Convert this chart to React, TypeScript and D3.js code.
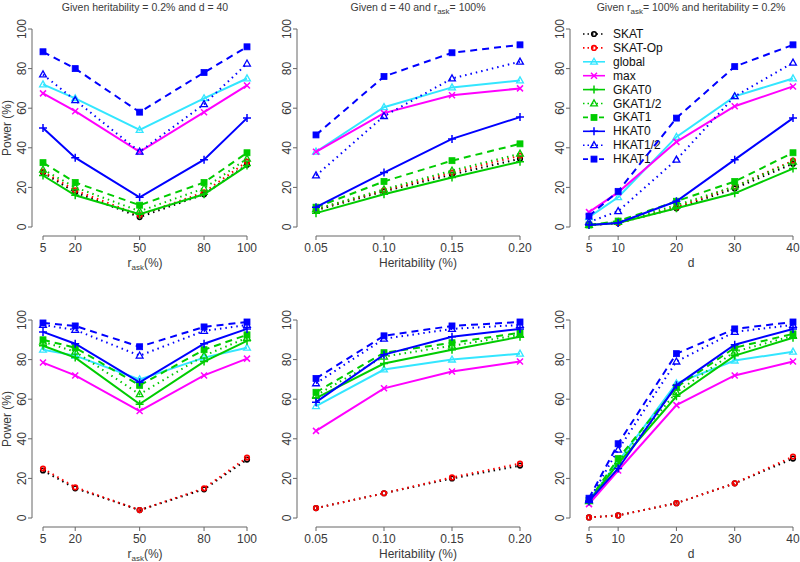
import React from 'react';
import * as d3 from 'd3';

// series order: SKAT, SKAT-Op, global, max, GKAT0, GKAT1/2, GKAT1, HKAT0, HKAT1/2, HKAT1
const seriesNames = ['SKAT', 'SKAT-Op', 'global', 'max', 'GKAT0', 'GKAT1/2', 'GKAT1', 'HKAT0', 'HKAT1/2', 'HKAT1'];
const seriesColors = ['#000000', '#ff0000', '#33e6ff', '#ff00ff', '#00cc00', '#00cc00', '#00cc00', '#0000ff', '#0000ff', '#0000ff'];
const seriesDash = ['dot', 'dot', 'solid', 'solid', 'solid', 'dot', 'dash', 'solid', 'dot', 'dash'];
const seriesMarker = ['circle', 'circle', 'triangle', 'x', 'plus', 'triangle', 'square', 'plus', 'triangle', 'square'];

const riskLevels = [5, 20, 50, 80, 100];
const heritLevels = [0.05, 0.10, 0.15, 0.20];
const dLevels = [5, 10, 20, 30, 40];
const yTicks = [0, 20, 40, 60, 80, 100];

const topRisk = [
  [27.5, 17.5, 5, 16.5, 31.5],
  [28, 18.5, 6, 17.5, 33],
  [72, 65, 49, 65, 75],
  [67.5, 58.5, 38, 58, 71.5],
  [26, 16, 6.5, 16.5, 31],
  [29, 20, 8, 19.5, 34.5],
  [32.5, 22.5, 11, 22.5, 37.5],
  [50, 35, 15, 34, 55],
  [77, 64, 38, 62, 82.5],
  [88.5, 80, 58, 78, 91],
];
const topHerit = [
  [8.5, 18, 26.5, 34.5],
  [9, 18.5, 27.5, 36],
  [38, 60.5, 70.5, 74],
  [38, 57.5, 66.5, 70],
  [7, 16.5, 25, 33],
  [9, 19, 28.5, 37],
  [10, 23, 33.5, 42],
  [10, 27.5, 44.5, 55.5],
  [26, 56, 75, 83.5],
  [46.5, 76, 88, 92],
];
const topD = [
  [1, 2, 9.5, 19.5, 32],
  [1, 2, 10, 20.5, 33.5],
  [5, 15, 45.5, 66, 75],
  [7.5, 17.5, 43, 61, 71],
  [1, 2, 9.5, 17, 29.5],
  [1, 2.5, 11, 20.5, 33],
  [1, 3, 13, 23, 37.5],
  [1, 2, 13, 34, 55],
  [2.5, 8, 34, 66, 83],
  [5.5, 18, 55, 81, 92],
];
const botRisk = [
  [24, 15, 4, 14.5, 29.5],
  [25, 15.5, 4, 15, 30.5],
  [85, 82, 70, 81, 86],
  [78.5, 72, 54, 72, 80.5],
  [87, 81, 57.5, 79, 89.5],
  [89, 84, 62.5, 82, 91],
  [90, 86, 67, 85, 92.5],
  [94, 88, 68.5, 88, 95.5],
  [97.5, 95, 82, 94.5, 97.5],
  [98.5, 97, 86.5, 96.5, 99],
];
const botHerit = [
  [5, 12.5, 20, 26.5],
  [5, 12.5, 20.5, 27.5],
  [56.5, 75, 80, 83],
  [44, 65.5, 74, 79],
  [60.5, 78, 85, 91.5],
  [62, 81.5, 87, 92.5],
  [63.5, 83.5, 88.5, 93.5],
  [58.5, 82.5, 91.5, 95.5],
  [68, 90.5, 95.5, 97.5],
  [70.5, 92, 97, 99],
];
const botD = [
  [0.3, 1.3, 7.5, 17.5, 30],
  [0.3, 1.3, 7.5, 17.5, 31],
  [9, 28.5, 68, 79.5, 84],
  [7, 24, 57, 72, 79],
  [8.5, 27.5, 61.5, 82, 91],
  [8.5, 28.5, 63.5, 84, 92],
  [9, 30, 66, 86, 93],
  [8.5, 25, 67, 87.5, 95.5],
  [9, 34.5, 79, 94, 97.5],
  [10, 37.5, 83, 95.5, 99],
];

const FONT = '"Liberation Sans", Arial, sans-serif';
const AXIS = '#666';
const TEXT = '#3a3a3a';

const colAxisX = [32, 297, 570];
const colRange = [[43, 247], [316, 520], [589, 793]];
const rowYRange = [[227, 29], [518, 320]];
const rowXAxisY = [236, 527];

const dashArray = (k: string) => (k === 'dash' ? '7,5' : k === 'dot' ? '1.5,4' : undefined);

const Marker = ({ kind, x, y, color }: { kind: string; x: number; y: number; color: string }) => {
  const s = 3;
  if (kind === 'circle') return <circle cx={x} cy={y} r={2.3} fill="none" stroke={color} strokeWidth={1.6} />;
  if (kind === 'square') return <rect x={x - s} y={y - s} width={2 * s} height={2 * s} fill={color} stroke={color} strokeWidth={0.8} />;
  if (kind === 'triangle')
    return <path d={`M${x},${y - 3.6}L${x + 3.4},${y + 2.4}L${x - 3.4},${y + 2.4}Z`} fill="none" stroke={color} strokeWidth={1.3} />;
  if (kind === 'x')
    return <path d={`M${x - s},${y - s}L${x + s},${y + s}M${x - s},${y + s}L${x + s},${y - s}`} stroke={color} strokeWidth={1.5} />;
  return <path d={`M${x - 4},${y}L${x + 4},${y}M${x},${y - 4}L${x},${y + 4}`} stroke={color} strokeWidth={1.5} />;
};

const RiskLabel = () => (
  <>
    r<tspan fontSize="8" dy="3">ask</tspan>
    <tspan dy="-3">(%)</tspan>
  </>
);

type PanelProps = {
  row: number;
  col: number;
  xs: number[];
  data: number[][];
  fmt: (v: number) => string;
  xlabel: React.ReactNode;
  title?: React.ReactNode;
  ylabel?: boolean;
  legend?: boolean;
};

const Panel = ({ row, col, xs, data, fmt, xlabel, title, ylabel, legend }: PanelProps) => {
  const x = d3.scaleLinear().domain([xs[0], xs[xs.length - 1]]).range(colRange[col]);
  const y = d3.scaleLinear().domain([0, 100]).range(rowYRange[row]);
  const ax = colAxisX[col];
  const ay = rowXAxisY[row];
  const line = d3.line<number>().x((_, i) => x(xs[i])).y(d => y(d));
  const midX = (colRange[col][0] + colRange[col][1]) / 2;
  const midY = (rowYRange[row][0] + rowYRange[row][1]) / 2;

  return (
    <g fontFamily={FONT}>
      {title && (
        <text x={midX} y={11} textAnchor="middle" fontSize={10.5} fill={TEXT}>{title}</text>
      )}
      {/* y axis */}
      <line x1={ax} x2={ax} y1={y(0)} y2={y(100)} stroke={AXIS} strokeWidth={1} />
      {yTicks.map(t => (
        <g key={t}>
          <line x1={ax - 4} x2={ax} y1={y(t)} y2={y(t)} stroke={AXIS} />
          <text transform={`translate(${ax - 6},${y(t)}) rotate(-90)`} textAnchor="middle" fontSize={12} fill={TEXT}>{t}</text>
        </g>
      ))}
      {ylabel && (
        <text transform={`translate(11,${midY}) rotate(-90)`} textAnchor="middle" fontSize={12} fill={TEXT}>Power (%)</text>
      )}
      {/* x axis */}
      <line x1={x(xs[0])} x2={x(xs[xs.length - 1])} y1={ay} y2={ay} stroke={AXIS} />
      {xs.map(t => (
        <g key={t}>
          <line x1={x(t)} x2={x(t)} y1={ay} y2={ay + 4} stroke={AXIS} />
          <text x={x(t)} y={ay + 16} textAnchor="middle" fontSize={12} fill={TEXT}>{fmt(t)}</text>
        </g>
      ))}
      <text x={midX} y={ay + 31} textAnchor="middle" fontSize={12} fill={TEXT}>{xlabel}</text>

      {legend &&
        seriesNames.map((name, i) => {
          const ly = 34 + i * 13.9;
          return (
            <g key={name}>
              <line x1={583} x2={605} y1={ly} y2={ly} stroke={seriesColors[i]} strokeWidth={1.6} strokeDasharray={dashArray(seriesDash[i]) ? (seriesDash[i] === 'dash' ? '5,3' : '1.5,3') : undefined} />
              <Marker kind={seriesMarker[i]} x={594} y={ly} color={seriesColors[i]} />
              <text x={613} y={ly + 4} fontSize={12} fill="#111">{name}</text>
            </g>
          );
        })}

      {data.map((vals, i) => (
        <g key={i}>
          <path d={line(vals) || ''} fill="none" stroke={seriesColors[i]} strokeWidth={2} strokeDasharray={dashArray(seriesDash[i])} strokeLinecap="butt" />
          {vals.map((v, j) => (
            <Marker key={j} kind={seriesMarker[i]} x={x(xs[j])} y={y(v)} color={seriesColors[i]} />
          ))}
        </g>
      ))}
    </g>
  );
};

const intFmt = (v: number) => String(v);
const heritFmt = d3.format('.2f');

export default function App() {
  return (
    <svg width={800} height={562} style={{ position: 'absolute', left: 0, top: 0, background: '#fff' }}>
      <Panel row={0} col={0} xs={riskLevels} data={topRisk} fmt={intFmt} xlabel={<RiskLabel />} ylabel
        title="Given heritability = 0.2% and d = 40" />
      <Panel row={0} col={1} xs={heritLevels} data={topHerit} fmt={heritFmt} xlabel="Heritability (%)"
        title={<>Given d = 40 and r<tspan fontSize="8" dy="3">ask</tspan><tspan dy="-3">= 100%</tspan></>} />
      <Panel row={0} col={2} xs={dLevels} data={topD} fmt={intFmt} xlabel="d" legend
        title={<>Given r<tspan fontSize="8" dy="3">ask</tspan><tspan dy="-3">= 100% and heritability = 0.2%</tspan></>} />
      <Panel row={1} col={0} xs={riskLevels} data={botRisk} fmt={intFmt} xlabel={<RiskLabel />} ylabel />
      <Panel row={1} col={1} xs={heritLevels} data={botHerit} fmt={heritFmt} xlabel="Heritability (%)" />
      <Panel row={1} col={2} xs={dLevels} data={botD} fmt={intFmt} xlabel="d" />
    </svg>
  );
}
